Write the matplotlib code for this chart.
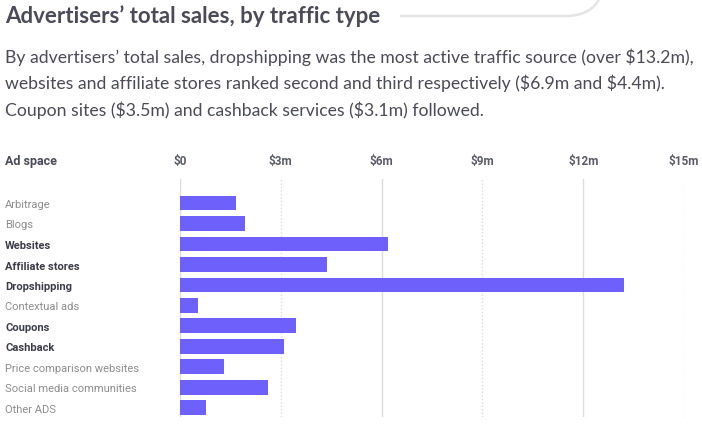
import matplotlib
matplotlib.use("Agg")
import matplotlib.pyplot as plt
from matplotlib.path import Path
from matplotlib.patches import PathPatch

categories = ["Arbitrage", "Blogs", "Websites", "Affiliate stores", "Dropshipping",
              "Contextual ads", "Coupons", "Cashback", "Price comparison websites",
              "Social media communities", "Other ADS"]
sales_m = [1.67, 1.93, 6.19, 4.37, 13.2, 0.54, 3.45, 3.1, 1.31, 2.62, 0.77]
highlighted = ["Websites", "Affiliate stores", "Dropshipping", "Coupons", "Cashback"]
tick_values = [0, 3, 6, 9, 12, 15]
tick_labels = ["\\$0", "\\$3m", "\\$6m", "\\$9m", "\\$12m", "\\$15m"]

title = "Advertisers\u2019 total sales, by traffic type"
subtitle = ["By advertisers\u2019 total sales, dropshipping was the most active traffic source (over \\$13.2m),",
            "websites and affiliate stores ranked second and third respectively (\\$6.9m and \\$4.4m).",
            "Coupon sites (\\$3.5m) and cashback services (\\$3.1m) followed."]

W, H = 702, 427
fig = plt.figure(figsize=(W / 100, H / 100), dpi=100)
fig.patch.set_facecolor("white")

def fx(px):
    return px / W

def fy(py):
    return 1 - py / H

# Axes
left, right, top, bottom = 180, 684, 180, 418
ax = fig.add_axes([fx(left), fy(bottom), fx(right - left), (bottom - top) / H])
ax.set_xlim(0, 15)
n = len(categories)
ax.set_ylim(n - 1 + 0.44, -1.17)
for s in ax.spines.values():
    s.set_visible(False)
ax.set_xticks([])
ax.set_yticks([])

for i, v in enumerate(tick_values):
    ls = "-" if i % 2 == 0 else (0, (1, 1.5))
    ax.axvline(v, color="#dcdcdc", lw=1.0, linestyle=ls, zorder=0)

ypos = list(range(n))
ax.barh(ypos, sales_m, height=0.73, color="#6e61fb", zorder=2)

# category labels
for i, c in enumerate(categories):
    if c in highlighted:
        fig.text(fx(5), fy(205 + i * 20.5), c, ha="left", va="center",
                 fontsize=8, fontfamily="Roboto", fontweight="bold", color="#3c3c4a")
    else:
        fig.text(fx(5), fy(205 + i * 20.5), c, ha="left", va="center",
                 fontsize=8, fontfamily="Roboto", color="#8c8c8c")

fig.text(fx(5), fy(162), "Ad space", ha="left", va="center", fontsize=9,
         fontfamily="Roboto", fontweight="bold", color="#4a4a58")
for v, lab in zip(tick_values, tick_labels):
    xpx = left + (right - left) * v / 15
    fig.text(fx(xpx), fy(162), lab, ha="center", va="center", fontsize=8.5,
             fontfamily="Roboto", fontweight="bold", color="#5a5a68")

# title and subtitle
fig.text(fx(5), fy(16), title, ha="left", va="center", fontsize=16,
         fontfamily="Lato", fontweight="bold", color="#4a4a58")
for k, line in enumerate(subtitle):
    fig.text(fx(5), fy(57 + k * 26.5), line, ha="left", va="center", fontsize=12.7,
             fontfamily="Lato", color="#4a4a58")

# decorative rounded line
verts = [(fx(400), fy(17)), (fx(565), fy(17)), (fx(592), fy(17)), (fx(600), fy(-2))]
codes = [Path.MOVETO, Path.LINETO, Path.CURVE3, Path.CURVE3]
patch = PathPatch(Path(verts, codes), transform=fig.transFigure, fill=False,
                  edgecolor="#e3e3e3", lw=1.8)
fig.add_artist(patch)

fig.savefig("out.png", dpi=100, facecolor="white")
